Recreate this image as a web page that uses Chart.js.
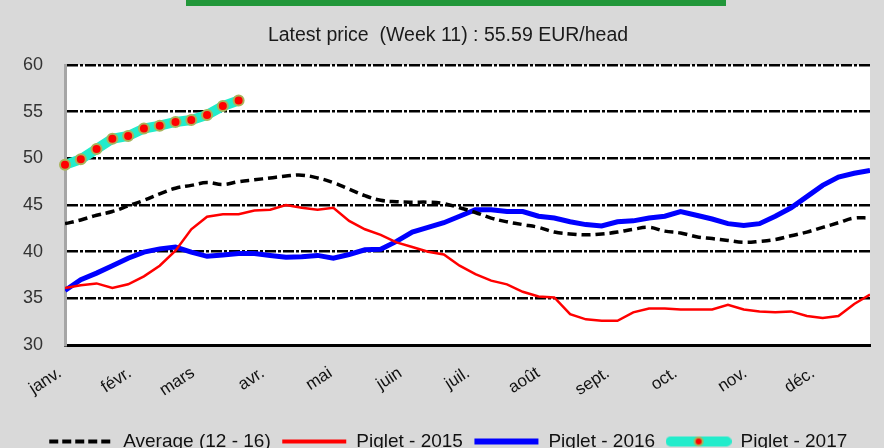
<!DOCTYPE html>
<html><head><meta charset="utf-8">
<script src="https://cdn.jsdelivr.net/npm/chart.js@4.4.1/dist/chart.umd.min.js"></script>
<style>
html,body{margin:0;padding:0;background:#d9d9d9;overflow:hidden;width:884px;height:448px}
#wrap{position:relative;width:884px;height:461px}
#bar{position:absolute;left:186px;top:0;width:540px;height:6px;background:#22973a}
canvas{display:block}
</style></head><body>
<div id="wrap"><canvas id="c" width="884" height="461"></canvas><div id="bar"></div></div>
<script>
const titleText = "Latest price  (Week 11) : 55.59 EUR/head";
const months = ["janv.","févr.","mars","avr.","mai","juin","juil.","août","sept.","oct.","nov.","déc."];
const monthStartDay = [0,31,59,90,120,151,181,212,243,273,304,334];
const yTicks = [30,35,40,45,50,55,60];
const seriesNames = ["Average (12 - 16)","Piglet - 2015","Piglet - 2016","Piglet - 2017"];

const average = [43.0,43.4,43.9,44.3,44.9,45.5,46.2,46.8,47.1,47.4,47.2,47.5,47.7,47.9,48.1,48.2,
  47.9,47.4,46.7,46.0,45.5,45.35,45.3,45.3,45.15,44.7,44.2,43.6,43.2,42.9,42.6,42.1,41.9,41.8,
  41.9,42.1,42.4,42.6,42.2,42.0,41.6,41.4,41.2,41.0,41.1,41.3,41.7,42.1,42.6,43.1,43.6,43.6];
const piglet2015 = [36.1,36.4,36.6,36.1,36.5,37.35,38.5,40.1,42.4,43.75,44.0,44.0,44.4,44.5,45.0,44.7,
  44.5,44.7,43.3,42.4,41.8,41.0,40.5,40.0,39.7,38.5,37.6,36.9,36.5,35.7,35.2,35.1,33.3,32.75,
  32.6,32.6,33.5,33.9,33.9,33.8,33.8,33.8,34.3,33.8,33.6,33.5,33.6,33.1,32.9,33.1,34.4,35.4];
const piglet2016 = [35.85,37.0,37.7,38.5,39.3,39.95,40.3,40.5,39.95,39.5,39.65,39.8,39.8,39.6,39.4,39.45,
  39.6,39.3,39.7,40.2,40.25,41.1,42.1,42.6,43.1,43.8,44.5,44.5,44.3,44.3,43.8,43.6,43.2,42.9,
  42.75,43.2,43.3,43.6,43.8,44.3,43.9,43.5,43.0,42.8,43.0,43.8,44.7,45.9,47.1,48.0,48.4,48.7];
const piglet2017 = [49.3,49.9,51.0,52.1,52.4,53.2,53.5,53.9,54.1,54.65,55.6,56.2];

const FONT = "'Liberation Sans', Arial, sans-serif";
const toPts = arr => arr.map((v, i) => ({x: i, y: v}));
const nWeeks = average.length;

function sample(draw){
  const c = document.createElement('canvas');
  c.width = 66; c.height = 14;
  const g = c.getContext('2d');
  draw(g);
  return c;
}
const legendImgs = [
  sample(g => { g.strokeStyle = '#000'; g.lineWidth = 4; g.setLineDash([9,4]); g.beginPath(); g.moveTo(1,7); g.lineTo(65,7); g.stroke(); }),
  sample(g => { g.strokeStyle = '#ff0000'; g.lineWidth = 4; g.beginPath(); g.moveTo(1,7); g.lineTo(65,7); g.stroke(); }),
  sample(g => { g.strokeStyle = '#0000ff'; g.lineWidth = 6; g.beginPath(); g.moveTo(1,7); g.lineTo(65,7); g.stroke(); }),
  sample(g => { g.strokeStyle = '#22eccb'; g.lineWidth = 10; g.lineCap = 'round'; g.beginPath(); g.moveTo(5,7); g.lineTo(61,7); g.stroke();
                g.fillStyle = '#ff0000'; g.strokeStyle = '#a9b35a'; g.lineWidth = 2; g.beginPath(); g.arc(33,7,4,0,Math.PI*2); g.fill(); g.stroke(); })
];

const bgPlugin = {
  id: 'plotBg',
  beforeDraw(chart) {
    const {ctx, chartArea: a} = chart;
    ctx.save();
    ctx.fillStyle = '#ffffff';
    ctx.fillRect(a.left, a.top, a.right - a.left, a.bottom - a.top);
    ctx.restore();
  }
};

new Chart(document.getElementById('c'), {
  type: 'line',
  data: {
    datasets: [
      { label: seriesNames[0], data: toPts(average), borderColor: '#000', borderWidth: 3.5, borderDash: [9,5],
        pointRadius: 0, tension: 0.4, fill: false },
      { label: seriesNames[1], data: toPts(piglet2015), borderColor: '#ff0000', borderWidth: 2.5,
        pointRadius: 0, tension: 0, fill: false },
      { label: seriesNames[2], data: toPts(piglet2016), borderColor: '#0000ff', borderWidth: 5,
        pointRadius: 0, tension: 0, fill: false },
      { label: seriesNames[3], data: toPts(piglet2017), borderColor: '#22eccb', borderWidth: 10,
        pointRadius: 5, pointBackgroundColor: '#ff0000', pointBorderColor: '#a9b35a', pointBorderWidth: 2,
        tension: 0, fill: false, clip: false }
    ]
  },
  options: {
    responsive: false,
    animation: false,
    devicePixelRatio: 1,
    layout: { padding: { left: 12, right: 0, top: 0, bottom: 0 } },
    plugins: {
      title: { display: true, text: titleText, color: '#1a1a1a',
        font: { family: FONT, size: 19.5, weight: 'normal' }, padding: { top: 24, bottom: 17.6 } },
      legend: {
        position: 'bottom',
        labels: {
          usePointStyle: true, pointStyleWidth: 65, padding: 11, color: '#111',
          font: { family: FONT, size: 19 },
          generateLabels(chart) {
            const items = Chart.defaults.plugins.legend.labels.generateLabels(chart);
            items.forEach((it, i) => { it.pointStyle = legendImgs[i]; });
            return items;
          }
        }
      },
      tooltip: { enabled: false }
    },
    scales: {
      x: {
        type: 'linear', min: 0, max: nWeeks - 1,
        afterBuildTicks(scale) { scale.ticks = monthStartDay.map(d => ({ value: d / 7 })); },
        afterFit(scale) { scale.height = 76; },
        ticks: { autoSkip: false, maxRotation: 33, minRotation: 33, padding: 18, labelOffset: -5, color: '#111',
          font: { family: FONT, size: 17 },
          callback: (v, i) => months[i] },
        grid: { color: 'rgba(0,0,0,0)', drawTicks: false },
        border: { display: true, color: '#000', width: 3 }
      },
      y: {
        min: 30, max: 60,
        afterBuildTicks(scale) { scale.ticks = yTicks.map(v => ({ value: v })); },
        afterFit(scale) { scale.width = 53; },
        ticks: { padding: 22, color: '#333', font: { family: FONT, size: 18 } },
        grid: { color: '#000', lineWidth: 2.5, drawTicks: false },
        border: { display: true, color: '#a6a6a6', width: 3, dash: [11,2,3,2] }
      },
      yRight: {
        position: 'right', display: true, min: 30, max: 60,
        afterFit(scale) { scale.width = 14; },
        ticks: { display: false },
        grid: { display: false, drawTicks: false },
        border: { display: false }
      }
    }
  },
  plugins: [bgPlugin]
});
</script>
</body></html>
